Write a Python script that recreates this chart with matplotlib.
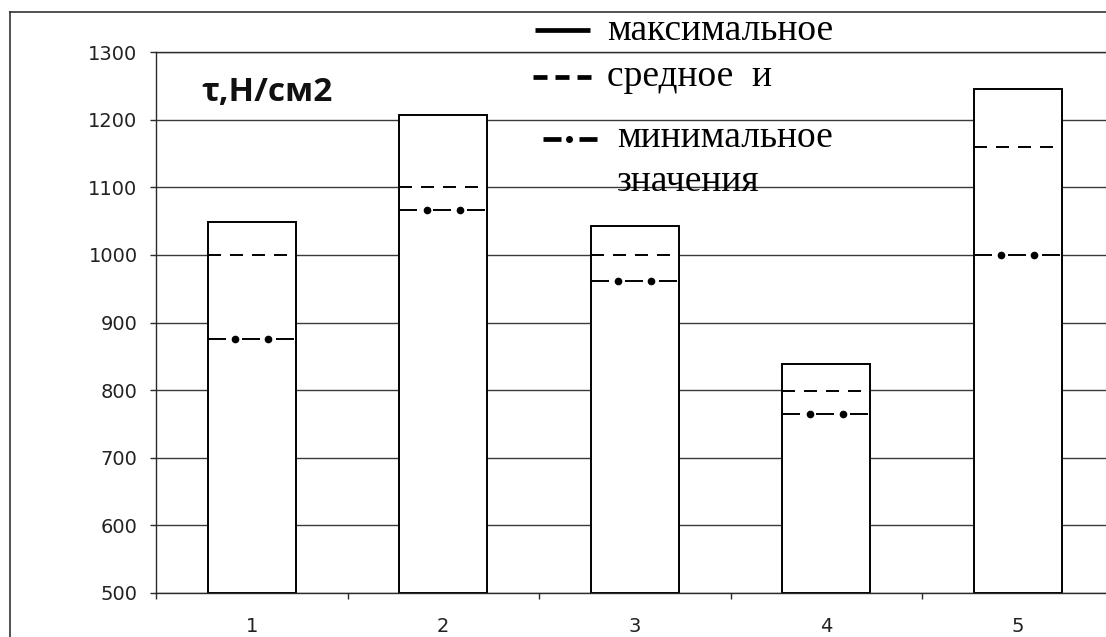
import matplotlib.pyplot as plt
import numpy as np
from matplotlib.lines import Line2D

plt.rcParams['lines.scale_dashes'] = False

# Data (tau, N/cm2)
categories = ['1', '2', '3', '4', '5']
max_vals = [1049, 1207, 1043, 838, 1246]
mean_vals = [1000, 1100, 1000, 798, 1160]
min_vals = [875, 1066, 962, 764, 1000]
y_ticks = [500, 600, 700, 800, 900, 1000, 1100, 1200, 1300]

legend_labels = ['максимальное', 'средное  и', 'минимальное', 'значения']

W, H = 1106, 637


def fx(px):
    return px / W


def fy(py):
    return 1 - py / H


fig = plt.figure(figsize=(W / 100, H / 100), dpi=100)
ax = fig.add_axes([fx(156), fy(593), fx(1113.5) - fx(156), fy(52) - fy(593)])

x = np.arange(1, len(categories) + 1)
bar_w = 0.46
base = y_ticks[0]
line_col = '#2a2a2a'

ax.bar(x, np.array(max_vals) - base, bottom=base, width=bar_w,
       color='white', edgecolor='black', linewidth=1.4, zorder=2)

px = 0.72  # points per pixel
for xi, m, mn in zip(x, mean_vals, min_vals):
    left, right = xi - bar_w / 2, xi + bar_w / 2
    # mean: dashed
    ax.plot([left, right], [m, m], color='black', lw=1.4,
            dashes=(13 * px, 9 * px), zorder=3, solid_capstyle='butt')
    # min: dash-dot with round dots
    ax.plot([left, right], [mn, mn], color='black', lw=1.4,
            dashes=(18 * px, 16 * px), zorder=3)
    ax.plot([xi - 0.19 * bar_w, xi + 0.19 * bar_w], [mn, mn], 'o',
            color='black', ms=4.5, zorder=4)

ax.set_xlim(0.5, len(categories) + 0.5)
ax.set_ylim(y_ticks[0], y_ticks[-1])
ax.set_yticks(y_ticks)
ax.set_xticks(x)
ax.set_xticklabels(categories)
ax.set_xticks(np.arange(0.5, len(categories) + 1, 1), minor=True)

ax.yaxis.grid(True, color='#3a3a3a', lw=1.0, zorder=0)
ax.set_axisbelow(True)

ax.spines['right'].set_visible(False)
for side in ['left', 'bottom', 'top']:
    ax.spines[side].set_color(line_col)
    ax.spines[side].set_linewidth(1.0)

ax.tick_params(axis='y', length=4.3, width=1, color=line_col, pad=9,
               labelsize=14, labelcolor='#222222')
ax.tick_params(axis='x', which='major', length=0, pad=17,
               labelsize=14, labelcolor='#222222')
ax.tick_params(axis='x', which='minor', length=4.3, width=1, color=line_col)

# outer chart frame
frame_kw = dict(transform=fig.transFigure, color='#333333', lw=1.2)
fig.add_artist(Line2D([fx(10), fx(10)], [0, fy(12)], **frame_kw))
fig.add_artist(Line2D([fx(10), 1], [fy(12), fy(12)], **frame_kw))

# unit label
fig.text(fx(201), fy(101), 'τ,Н/см2', fontsize=24, fontweight='bold',
         family=['Open Sans', 'DejaVu Sans'], va='baseline', color='#111111')

# hand-drawn legend
leg_kw = dict(transform=fig.transFigure, color='black', lw=3.4)
fig.add_artist(Line2D([fx(535), fx(590)], [fy(30), fy(30)],
                      solid_capstyle='butt', **leg_kw))
fig.add_artist(Line2D([fx(533), fx(591)], [fy(77), fy(77)],
                      dashes=(14 * px, 8 * px), dash_capstyle='butt', **leg_kw))
fig.add_artist(Line2D([fx(543), fx(597)], [fy(139), fy(139)],
                      dashes=(18 * px, 18 * px), dash_capstyle='butt', **leg_kw))
fig.add_artist(Line2D([fx(569)], [fy(139)], marker='o', ms=4,
                      transform=fig.transFigure, color='black'))

serif = ['Liberation Serif', 'DejaVu Serif']
txt_pos = [(607, 40), (607, 86), (617, 147), (617, 191)]
for label, (tx, ty) in zip(legend_labels, txt_pos):
    fig.text(fx(tx), fy(ty), label, fontsize=27, family=serif,
             va='baseline', color='black')

fig.savefig('out.png', dpi=100)
